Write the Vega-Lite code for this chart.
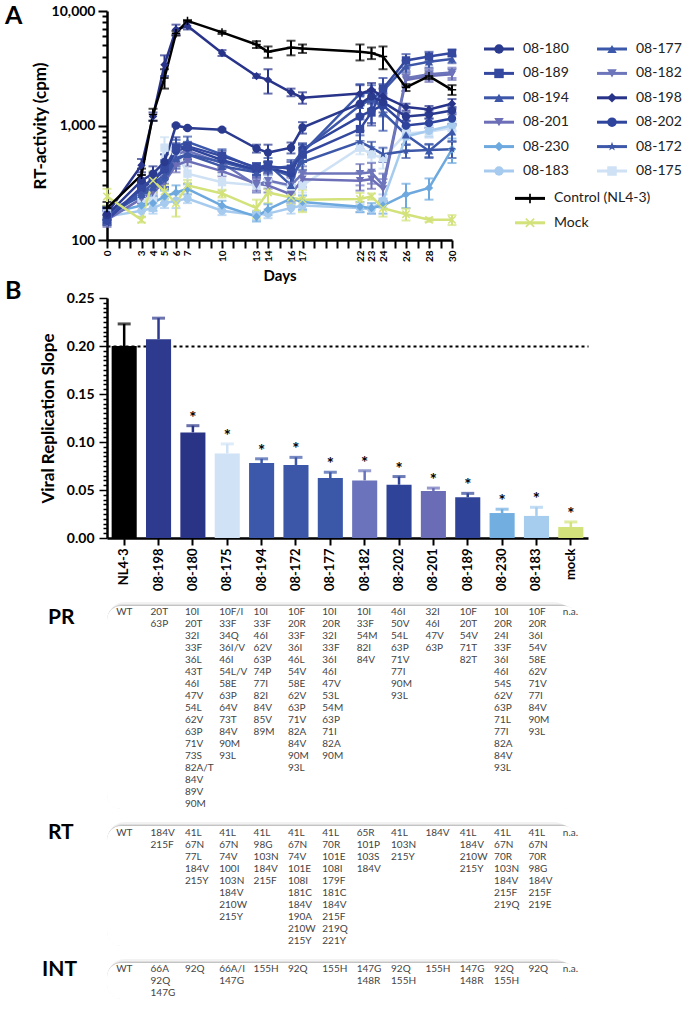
{
"$schema": "https://vega.github.io/schema/vega-lite/v6.json",
"background": "white",
"padding": {"left": 5, "top": 4, "right": 0, "bottom": 0},
"bounds": "flush",
"spacing": 17,
"resolve": {"scale": {"color": "independent", "shape": "independent", "size": "independent"}},
"config": {
 "font": "Lato",
 "view": {"stroke": null},
 "axis": {"grid": false, "labelOverlap": false, "domainColor": "#000", "tickColor": "#000", "labelColor": "#000", "titleColor": "#000", "labelFont": "Lato", "titleFont": "Lato", "labelFontWeight": "bold", "titleFontWeight": "bold"},
 "title": {"font": "Lato", "color": "#000"}
},
"datasets": {
"ts": [
{"s":"08-175","d":0,"v":170,"e":20},{"s":"08-175","d":3,"v":230,"e":30},{"s":"08-175","d":4,"v":220,"e":30},{"s":"08-175","d":5,"v":640,"e":150},{"s":"08-175","d":6,"v":600,"e":150},{"s":"08-175","d":7,"v":380,"e":80},{"s":"08-175","d":10,"v":320,"e":50},{"s":"08-175","d":13,"v":300,"e":40},{"s":"08-175","d":14,"v":330,"e":40},{"s":"08-175","d":16,"v":290,"e":40},{"s":"08-175","d":17,"v":300,"e":40},{"s":"08-175","d":22,"v":640,"e":80},{"s":"08-175","d":23,"v":560,"e":80},{"s":"08-175","d":24,"v":520,"e":100},{"s":"08-175","d":26,"v":850,"e":100},{"s":"08-175","d":28,"v":880,"e":100},{"s":"08-175","d":30,"v":950,"e":100},
{"s":"08-183","d":0,"v":160,"e":15},{"s":"08-183","d":3,"v":180,"e":20},{"s":"08-183","d":4,"v":190,"e":20},{"s":"08-183","d":5,"v":210,"e":20},{"s":"08-183","d":6,"v":220,"e":30},{"s":"08-183","d":7,"v":230,"e":20},{"s":"08-183","d":10,"v":180,"e":15},{"s":"08-183","d":13,"v":165,"e":15},{"s":"08-183","d":14,"v":170,"e":15},{"s":"08-183","d":16,"v":190,"e":20},{"s":"08-183","d":17,"v":200,"e":20},{"s":"08-183","d":22,"v":190,"e":15},{"s":"08-183","d":23,"v":185,"e":15},{"s":"08-183","d":24,"v":220,"e":30},{"s":"08-183","d":26,"v":800,"e":120},{"s":"08-183","d":28,"v":900,"e":100},{"s":"08-183","d":30,"v":1000,"e":100},
{"s":"08-230","d":0,"v":170,"e":20},{"s":"08-230","d":3,"v":200,"e":20},{"s":"08-230","d":4,"v":210,"e":30},{"s":"08-230","d":5,"v":240,"e":30},{"s":"08-230","d":6,"v":260,"e":40},{"s":"08-230","d":7,"v":280,"e":30},{"s":"08-230","d":10,"v":200,"e":20},{"s":"08-230","d":13,"v":160,"e":15},{"s":"08-230","d":14,"v":185,"e":20},{"s":"08-230","d":16,"v":230,"e":30},{"s":"08-230","d":17,"v":215,"e":30},{"s":"08-230","d":22,"v":195,"e":20},{"s":"08-230","d":23,"v":190,"e":20},{"s":"08-230","d":24,"v":200,"e":30},{"s":"08-230","d":26,"v":250,"e":60},{"s":"08-230","d":28,"v":285,"e":60},{"s":"08-230","d":30,"v":620,"e":150},
{"s":"08-201","d":0,"v":150,"e":20},{"s":"08-201","d":3,"v":230,"e":30},{"s":"08-201","d":4,"v":260,"e":30},{"s":"08-201","d":5,"v":320,"e":40},{"s":"08-201","d":6,"v":450,"e":60},{"s":"08-201","d":7,"v":490,"e":50},{"s":"08-201","d":10,"v":400,"e":40},{"s":"08-201","d":13,"v":310,"e":40},{"s":"08-201","d":14,"v":300,"e":40},{"s":"08-201","d":16,"v":250,"e":40},{"s":"08-201","d":17,"v":340,"e":50},{"s":"08-201","d":22,"v":330,"e":60},{"s":"08-201","d":23,"v":340,"e":60},{"s":"08-201","d":24,"v":280,"e":60},{"s":"08-201","d":26,"v":2500,"e":300},{"s":"08-201","d":28,"v":2700,"e":300},{"s":"08-201","d":30,"v":2800,"e":300},
{"s":"08-182","d":0,"v":160,"e":20},{"s":"08-182","d":3,"v":260,"e":30},{"s":"08-182","d":4,"v":300,"e":40},{"s":"08-182","d":5,"v":340,"e":50},{"s":"08-182","d":6,"v":560,"e":80},{"s":"08-182","d":7,"v":600,"e":60},{"s":"08-182","d":10,"v":470,"e":50},{"s":"08-182","d":13,"v":300,"e":40},{"s":"08-182","d":14,"v":330,"e":50},{"s":"08-182","d":16,"v":300,"e":50},{"s":"08-182","d":17,"v":380,"e":60},{"s":"08-182","d":22,"v":380,"e":80},{"s":"08-182","d":23,"v":390,"e":80},{"s":"08-182","d":24,"v":300,"e":80},{"s":"08-182","d":26,"v":2600,"e":400},{"s":"08-182","d":28,"v":2800,"e":300},{"s":"08-182","d":30,"v":2900,"e":300},
{"s":"08-172","d":0,"v":175,"e":20},{"s":"08-172","d":3,"v":240,"e":30},{"s":"08-172","d":4,"v":280,"e":40},{"s":"08-172","d":5,"v":330,"e":50},{"s":"08-172","d":6,"v":500,"e":80},{"s":"08-172","d":7,"v":560,"e":50},{"s":"08-172","d":10,"v":480,"e":50},{"s":"08-172","d":13,"v":400,"e":40},{"s":"08-172","d":14,"v":430,"e":50},{"s":"08-172","d":16,"v":360,"e":60},{"s":"08-172","d":17,"v":480,"e":70},{"s":"08-172","d":22,"v":720,"e":100},{"s":"08-172","d":23,"v":640,"e":80},{"s":"08-172","d":24,"v":560,"e":80},{"s":"08-172","d":26,"v":600,"e":80},{"s":"08-172","d":28,"v":610,"e":80},{"s":"08-172","d":30,"v":620,"e":100},
{"s":"08-177","d":0,"v":160,"e":20},{"s":"08-177","d":3,"v":250,"e":30},{"s":"08-177","d":4,"v":290,"e":40},{"s":"08-177","d":5,"v":350,"e":60},{"s":"08-177","d":6,"v":650,"e":100},{"s":"08-177","d":7,"v":720,"e":80},{"s":"08-177","d":10,"v":560,"e":60},{"s":"08-177","d":13,"v":420,"e":50},{"s":"08-177","d":14,"v":460,"e":60},{"s":"08-177","d":16,"v":300,"e":80},{"s":"08-177","d":17,"v":580,"e":100},{"s":"08-177","d":22,"v":1900,"e":400},{"s":"08-177","d":23,"v":1950,"e":300},{"s":"08-177","d":24,"v":1300,"e":400},{"s":"08-177","d":26,"v":830,"e":150},{"s":"08-177","d":28,"v":600,"e":80},{"s":"08-177","d":30,"v":880,"e":150},
{"s":"08-202","d":0,"v":150,"e":15},{"s":"08-202","d":3,"v":280,"e":40},{"s":"08-202","d":4,"v":330,"e":40},{"s":"08-202","d":5,"v":410,"e":60},{"s":"08-202","d":6,"v":600,"e":100},{"s":"08-202","d":7,"v":640,"e":60},{"s":"08-202","d":10,"v":500,"e":50},{"s":"08-202","d":13,"v":410,"e":40},{"s":"08-202","d":14,"v":430,"e":50},{"s":"08-202","d":16,"v":380,"e":60},{"s":"08-202","d":17,"v":620,"e":80},{"s":"08-202","d":22,"v":1200,"e":300},{"s":"08-202","d":23,"v":1350,"e":300},{"s":"08-202","d":24,"v":1500,"e":300},{"s":"08-202","d":26,"v":1000,"e":100},{"s":"08-202","d":28,"v":1050,"e":100},{"s":"08-202","d":30,"v":1150,"e":150},
{"s":"08-194","d":0,"v":170,"e":20},{"s":"08-194","d":3,"v":260,"e":30},{"s":"08-194","d":4,"v":310,"e":40},{"s":"08-194","d":5,"v":370,"e":60},{"s":"08-194","d":6,"v":520,"e":80},{"s":"08-194","d":7,"v":560,"e":60},{"s":"08-194","d":10,"v":440,"e":50},{"s":"08-194","d":13,"v":390,"e":40},{"s":"08-194","d":14,"v":420,"e":50},{"s":"08-194","d":16,"v":440,"e":60},{"s":"08-194","d":17,"v":600,"e":80},{"s":"08-194","d":22,"v":1500,"e":300},{"s":"08-194","d":23,"v":1700,"e":300},{"s":"08-194","d":24,"v":2000,"e":300},{"s":"08-194","d":26,"v":3300,"e":400},{"s":"08-194","d":28,"v":3600,"e":400},{"s":"08-194","d":30,"v":3800,"e":300},
{"s":"08-189","d":0,"v":150,"e":15},{"s":"08-189","d":3,"v":290,"e":40},{"s":"08-189","d":4,"v":340,"e":50},{"s":"08-189","d":5,"v":420,"e":80},{"s":"08-189","d":6,"v":640,"e":150},{"s":"08-189","d":7,"v":660,"e":60},{"s":"08-189","d":10,"v":540,"e":60},{"s":"08-189","d":13,"v":430,"e":40},{"s":"08-189","d":14,"v":440,"e":50},{"s":"08-189","d":16,"v":420,"e":60},{"s":"08-189","d":17,"v":560,"e":80},{"s":"08-189","d":22,"v":930,"e":200},{"s":"08-189","d":23,"v":1300,"e":300},{"s":"08-189","d":24,"v":2100,"e":500},{"s":"08-189","d":26,"v":3700,"e":500},{"s":"08-189","d":28,"v":4000,"e":400},{"s":"08-189","d":30,"v":4300,"e":300},
{"s":"08-180","d":0,"v":165,"e":20},{"s":"08-180","d":3,"v":330,"e":40},{"s":"08-180","d":4,"v":380,"e":60},{"s":"08-180","d":5,"v":480,"e":80},{"s":"08-180","d":6,"v":1000,"e":20},{"s":"08-180","d":7,"v":950,"e":20},{"s":"08-180","d":10,"v":920,"e":20},{"s":"08-180","d":13,"v":630,"e":50},{"s":"08-180","d":14,"v":580,"e":100},{"s":"08-180","d":16,"v":640,"e":70},{"s":"08-180","d":17,"v":960,"e":110},{"s":"08-180","d":22,"v":1550,"e":300},{"s":"08-180","d":23,"v":1800,"e":250},{"s":"08-180","d":24,"v":1600,"e":300},{"s":"08-180","d":26,"v":1200,"e":100},{"s":"08-180","d":28,"v":1250,"e":100},{"s":"08-180","d":30,"v":1350,"e":100},
{"s":"08-198","d":0,"v":170,"e":20},{"s":"08-198","d":3,"v":450,"e":60},{"s":"08-198","d":4,"v":1200,"e":100},{"s":"08-198","d":5,"v":3400,"e":700},{"s":"08-198","d":6,"v":6900,"e":700},{"s":"08-198","d":7,"v":7400,"e":500},{"s":"08-198","d":10,"v":4300,"e":250},{"s":"08-198","d":13,"v":2700,"e":100},{"s":"08-198","d":14,"v":2500,"e":600},{"s":"08-198","d":16,"v":1950,"e":150},{"s":"08-198","d":17,"v":1750,"e":200},{"s":"08-198","d":22,"v":1900,"e":350},{"s":"08-198","d":23,"v":2050,"e":300},{"s":"08-198","d":24,"v":1800,"e":300},{"s":"08-198","d":26,"v":1450,"e":100},{"s":"08-198","d":28,"v":1380,"e":100},{"s":"08-198","d":30,"v":1550,"e":150},
{"s":"Mock","d":0,"v":240,"e":40},{"s":"Mock","d":3,"v":150,"e":8},{"s":"Mock","d":4,"v":330,"e":70},{"s":"Mock","d":5,"v":265,"e":40},{"s":"Mock","d":6,"v":210,"e":50},{"s":"Mock","d":7,"v":300,"e":35},{"s":"Mock","d":10,"v":255,"e":20},{"s":"Mock","d":13,"v":190,"e":35},{"s":"Mock","d":14,"v":260,"e":50},{"s":"Mock","d":16,"v":235,"e":30},{"s":"Mock","d":17,"v":225,"e":50},{"s":"Mock","d":22,"v":228,"e":30},{"s":"Mock","d":23,"v":240,"e":15},{"s":"Mock","d":24,"v":190,"e":30},{"s":"Mock","d":26,"v":168,"e":20},{"s":"Mock","d":28,"v":150,"e":6},{"s":"Mock","d":30,"v":150,"e":15},
{"s":"Control (NL4-3)","d":0,"v":190,"e":25},{"s":"Control (NL4-3)","d":3,"v":370,"e":50},{"s":"Control (NL4-3)","d":4,"v":1250,"e":150},{"s":"Control (NL4-3)","d":5,"v":2600,"e":500},{"s":"Control (NL4-3)","d":6,"v":6400,"e":300},{"s":"Control (NL4-3)","d":7,"v":8200,"e":150},{"s":"Control (NL4-3)","d":10,"v":6500,"e":200},{"s":"Control (NL4-3)","d":13,"v":5100,"e":350},{"s":"Control (NL4-3)","d":14,"v":4400,"e":500},{"s":"Control (NL4-3)","d":16,"v":4800,"e":700},{"s":"Control (NL4-3)","d":17,"v":4700,"e":400},{"s":"Control (NL4-3)","d":22,"v":4400,"e":700},{"s":"Control (NL4-3)","d":23,"v":4300,"e":500},{"s":"Control (NL4-3)","d":24,"v":4000,"e":900},{"s":"Control (NL4-3)","d":26,"v":2150,"e":150},{"s":"Control (NL4-3)","d":28,"v":2700,"e":150},{"s":"Control (NL4-3)","d":30,"v":2050,"e":200}
],
"leg": [
{"s":"08-180","c":0,"r":0},{"s":"08-189","c":0,"r":1},{"s":"08-194","c":0,"r":2},{"s":"08-201","c":0,"r":3},{"s":"08-230","c":0,"r":4},{"s":"08-183","c":0,"r":5},
{"s":"08-177","c":1,"r":0},{"s":"08-182","c":1,"r":1},{"s":"08-198","c":1,"r":2},{"s":"08-202","c":1,"r":3},{"s":"08-172","c":1,"r":4},{"s":"08-175","c":1,"r":5},
{"s":"Control (NL4-3)","c":0,"r":6},{"s":"Mock","c":0,"r":7}
],
"bars": [
{"s":"NL4-3","v":0.2,"hi":0.223,"sig":""},{"s":"08-198","v":0.207,"hi":0.229,"sig":""},{"s":"08-180","v":0.11,"hi":0.117,"sig":"*"},{"s":"08-175","v":0.088,"hi":0.098,"sig":"*"},{"s":"08-194","v":0.078,"hi":0.0825,"sig":"*"},{"s":"08-172","v":0.076,"hi":0.084,"sig":"*"},{"s":"08-177","v":0.0625,"hi":0.0685,"sig":"*"},{"s":"08-182","v":0.06,"hi":0.07,"sig":"*"},{"s":"08-202","v":0.0555,"hi":0.064,"sig":"*"},{"s":"08-201","v":0.049,"hi":0.052,"sig":"*"},{"s":"08-189","v":0.0425,"hi":0.0465,"sig":"*"},{"s":"08-230","v":0.026,"hi":0.03,"sig":"*"},{"s":"08-183","v":0.023,"hi":0.032,"sig":"*"},{"s":"mock","v":0.0115,"hi":0.0167,"sig":"*"}
],
"pr": [
{"s":"NL4-3","i":0,"t":"WT"},
{"s":"08-198","i":0,"t":"20T"},{"s":"08-198","i":1,"t":"63P"},
{"s":"08-180","i":0,"t":"10I"},{"s":"08-180","i":1,"t":"20T"},{"s":"08-180","i":2,"t":"32I"},{"s":"08-180","i":3,"t":"33F"},{"s":"08-180","i":4,"t":"36L"},{"s":"08-180","i":5,"t":"43T"},{"s":"08-180","i":6,"t":"46I"},{"s":"08-180","i":7,"t":"47V"},{"s":"08-180","i":8,"t":"54L"},{"s":"08-180","i":9,"t":"62V"},{"s":"08-180","i":10,"t":"63P"},{"s":"08-180","i":11,"t":"71V"},{"s":"08-180","i":12,"t":"73S"},{"s":"08-180","i":13,"t":"82A/T"},{"s":"08-180","i":14,"t":"84V"},{"s":"08-180","i":15,"t":"89V"},{"s":"08-180","i":16,"t":"90M"},
{"s":"08-175","i":0,"t":"10F/I"},{"s":"08-175","i":1,"t":"33F"},{"s":"08-175","i":2,"t":"34Q"},{"s":"08-175","i":3,"t":"36I/V"},{"s":"08-175","i":4,"t":"46I"},{"s":"08-175","i":5,"t":"54L/V"},{"s":"08-175","i":6,"t":"58E"},{"s":"08-175","i":7,"t":"63P"},{"s":"08-175","i":8,"t":"64V"},{"s":"08-175","i":9,"t":"73T"},{"s":"08-175","i":10,"t":"84V"},{"s":"08-175","i":11,"t":"90M"},{"s":"08-175","i":12,"t":"93L"},
{"s":"08-194","i":0,"t":"10I"},{"s":"08-194","i":1,"t":"33F"},{"s":"08-194","i":2,"t":"46I"},{"s":"08-194","i":3,"t":"62V"},{"s":"08-194","i":4,"t":"63P"},{"s":"08-194","i":5,"t":"74P"},{"s":"08-194","i":6,"t":"77I"},{"s":"08-194","i":7,"t":"82I"},{"s":"08-194","i":8,"t":"84V"},{"s":"08-194","i":9,"t":"85V"},{"s":"08-194","i":10,"t":"89M"},
{"s":"08-172","i":0,"t":"10F"},{"s":"08-172","i":1,"t":"20R"},{"s":"08-172","i":2,"t":"33F"},{"s":"08-172","i":3,"t":"36I"},{"s":"08-172","i":4,"t":"46L"},{"s":"08-172","i":5,"t":"54V"},{"s":"08-172","i":6,"t":"58E"},{"s":"08-172","i":7,"t":"62V"},{"s":"08-172","i":8,"t":"63P"},{"s":"08-172","i":9,"t":"71V"},{"s":"08-172","i":10,"t":"82A"},{"s":"08-172","i":11,"t":"84V"},{"s":"08-172","i":12,"t":"90M"},{"s":"08-172","i":13,"t":"93L"},
{"s":"08-177","i":0,"t":"10I"},{"s":"08-177","i":1,"t":"20R"},{"s":"08-177","i":2,"t":"32I"},{"s":"08-177","i":3,"t":"33F"},{"s":"08-177","i":4,"t":"36I"},{"s":"08-177","i":5,"t":"46I"},{"s":"08-177","i":6,"t":"47V"},{"s":"08-177","i":7,"t":"53L"},{"s":"08-177","i":8,"t":"54M"},{"s":"08-177","i":9,"t":"63P"},{"s":"08-177","i":10,"t":"71I"},{"s":"08-177","i":11,"t":"82A"},{"s":"08-177","i":12,"t":"90M"},
{"s":"08-182","i":0,"t":"10I"},{"s":"08-182","i":1,"t":"33F"},{"s":"08-182","i":2,"t":"54M"},{"s":"08-182","i":3,"t":"82I"},{"s":"08-182","i":4,"t":"84V"},
{"s":"08-202","i":0,"t":"46I"},{"s":"08-202","i":1,"t":"50V"},{"s":"08-202","i":2,"t":"54L"},{"s":"08-202","i":3,"t":"63P"},{"s":"08-202","i":4,"t":"71V"},{"s":"08-202","i":5,"t":"77I"},{"s":"08-202","i":6,"t":"90M"},{"s":"08-202","i":7,"t":"93L"},
{"s":"08-201","i":0,"t":"32I"},{"s":"08-201","i":1,"t":"46I"},{"s":"08-201","i":2,"t":"47V"},{"s":"08-201","i":3,"t":"63P"},
{"s":"08-189","i":0,"t":"10F"},{"s":"08-189","i":1,"t":"20T"},{"s":"08-189","i":2,"t":"54V"},{"s":"08-189","i":3,"t":"71T"},{"s":"08-189","i":4,"t":"82T"},
{"s":"08-230","i":0,"t":"10I"},{"s":"08-230","i":1,"t":"20R"},{"s":"08-230","i":2,"t":"24I"},{"s":"08-230","i":3,"t":"33F"},{"s":"08-230","i":4,"t":"36I"},{"s":"08-230","i":5,"t":"46I"},{"s":"08-230","i":6,"t":"54S"},{"s":"08-230","i":7,"t":"62V"},{"s":"08-230","i":8,"t":"63P"},{"s":"08-230","i":9,"t":"71L"},{"s":"08-230","i":10,"t":"77I"},{"s":"08-230","i":11,"t":"82A"},{"s":"08-230","i":12,"t":"84V"},{"s":"08-230","i":13,"t":"93L"},
{"s":"08-183","i":0,"t":"10F"},{"s":"08-183","i":1,"t":"20R"},{"s":"08-183","i":2,"t":"36I"},{"s":"08-183","i":3,"t":"54V"},{"s":"08-183","i":4,"t":"58E"},{"s":"08-183","i":5,"t":"62V"},{"s":"08-183","i":6,"t":"71V"},{"s":"08-183","i":7,"t":"77I"},{"s":"08-183","i":8,"t":"84V"},{"s":"08-183","i":9,"t":"90M"},{"s":"08-183","i":10,"t":"93L"},
{"s":"mock","i":0,"t":"n.a."}
],
"rt": [
{"s":"NL4-3","i":0,"t":"WT"},
{"s":"08-198","i":0,"t":"184V"},{"s":"08-198","i":1,"t":"215F"},
{"s":"08-180","i":0,"t":"41L"},{"s":"08-180","i":1,"t":"67N"},{"s":"08-180","i":2,"t":"77L"},{"s":"08-180","i":3,"t":"184V"},{"s":"08-180","i":4,"t":"215Y"},
{"s":"08-175","i":0,"t":"41L"},{"s":"08-175","i":1,"t":"67N"},{"s":"08-175","i":2,"t":"74V"},{"s":"08-175","i":3,"t":"100I"},{"s":"08-175","i":4,"t":"103N"},{"s":"08-175","i":5,"t":"184V"},{"s":"08-175","i":6,"t":"210W"},{"s":"08-175","i":7,"t":"215Y"},
{"s":"08-194","i":0,"t":"41L"},{"s":"08-194","i":1,"t":"98G"},{"s":"08-194","i":2,"t":"103N"},{"s":"08-194","i":3,"t":"184V"},{"s":"08-194","i":4,"t":"215F"},
{"s":"08-172","i":0,"t":"41L"},{"s":"08-172","i":1,"t":"67N"},{"s":"08-172","i":2,"t":"74V"},{"s":"08-172","i":3,"t":"101E"},{"s":"08-172","i":4,"t":"108I"},{"s":"08-172","i":5,"t":"181C"},{"s":"08-172","i":6,"t":"184V"},{"s":"08-172","i":7,"t":"190A"},{"s":"08-172","i":8,"t":"210W"},{"s":"08-172","i":9,"t":"215Y"},
{"s":"08-177","i":0,"t":"41L"},{"s":"08-177","i":1,"t":"70R"},{"s":"08-177","i":2,"t":"101E"},{"s":"08-177","i":3,"t":"108I"},{"s":"08-177","i":4,"t":"179F"},{"s":"08-177","i":5,"t":"181C"},{"s":"08-177","i":6,"t":"184V"},{"s":"08-177","i":7,"t":"215F"},{"s":"08-177","i":8,"t":"219Q"},{"s":"08-177","i":9,"t":"221Y"},
{"s":"08-182","i":0,"t":"65R"},{"s":"08-182","i":1,"t":"101P"},{"s":"08-182","i":2,"t":"103S"},{"s":"08-182","i":3,"t":"184V"},
{"s":"08-202","i":0,"t":"41L"},{"s":"08-202","i":1,"t":"103N"},{"s":"08-202","i":2,"t":"215Y"},
{"s":"08-201","i":0,"t":"184V"},
{"s":"08-189","i":0,"t":"41L"},{"s":"08-189","i":1,"t":"184V"},{"s":"08-189","i":2,"t":"210W"},{"s":"08-189","i":3,"t":"215Y"},
{"s":"08-230","i":0,"t":"41L"},{"s":"08-230","i":1,"t":"67N"},{"s":"08-230","i":2,"t":"70R"},{"s":"08-230","i":3,"t":"103N"},{"s":"08-230","i":4,"t":"184V"},{"s":"08-230","i":5,"t":"215F"},{"s":"08-230","i":6,"t":"219Q"},
{"s":"08-183","i":0,"t":"41L"},{"s":"08-183","i":1,"t":"67N"},{"s":"08-183","i":2,"t":"70R"},{"s":"08-183","i":3,"t":"98G"},{"s":"08-183","i":4,"t":"184V"},{"s":"08-183","i":5,"t":"215F"},{"s":"08-183","i":6,"t":"219E"},
{"s":"mock","i":0,"t":"n.a."}
],
"int": [
{"s":"NL4-3","i":0,"t":"WT"},
{"s":"08-198","i":0,"t":"66A"},{"s":"08-198","i":1,"t":"92Q"},{"s":"08-198","i":2,"t":"147G"},
{"s":"08-180","i":0,"t":"92Q"},
{"s":"08-175","i":0,"t":"66A/I"},{"s":"08-175","i":1,"t":"147G"},
{"s":"08-194","i":0,"t":"155H"},
{"s":"08-172","i":0,"t":"92Q"},
{"s":"08-177","i":0,"t":"155H"},
{"s":"08-182","i":0,"t":"147G"},{"s":"08-182","i":1,"t":"148R"},
{"s":"08-202","i":0,"t":"92Q"},{"s":"08-202","i":1,"t":"155H"},
{"s":"08-201","i":0,"t":"155H"},
{"s":"08-189","i":0,"t":"147G"},{"s":"08-189","i":1,"t":"148R"},
{"s":"08-230","i":0,"t":"92Q"},{"s":"08-230","i":1,"t":"155H"},
{"s":"08-183","i":0,"t":"92Q"},
{"s":"mock","i":0,"t":"n.a."}
]
},
"vconcat": [
{
 "width": 345, "height": 229,
 "title": {"text": "A", "anchor": "start", "frame": "group", "orient": "top", "fontSize": 25, "fontWeight": "bold", "baseline": "middle", "offset": 0, "dx": -102, "dy": 37},
 "resolve": {"scale": {"x": "independent", "y": "independent", "color": "independent", "shape": "independent", "size": "independent"}},
 "layer": [
 {
  "data": {"name": "ts"},
  "encoding": {
   "x": {"field": "d", "type": "quantitative", "scale": {"domain": [0, 30], "nice": false},
     "axis": {"values": [0,1,2,3,4,5,6,7,8,9,10,11,12,13,14,15,16,17,18,19,20,21,22,23,24,25,26,27,28,29,30],
       "labelExpr": "indexof([0,3,4,5,6,7,10,13,14,16,17,22,23,24,26,28,30], datum.value) >= 0 ? datum.label : ''",
       "labelAngle": -90, "labelFontSize": 10, "labelPadding": 2, "tickSize": 8, "tickWidth": 2, "domainWidth": 2.5,
       "title": "Days", "titleFontSize": 15, "titlePadding": 7}},
   "y": {"field": "v", "type": "quantitative", "scale": {"type": "log", "domain": [100, 10000], "nice": false},
     "axis": {"values": [100,200,300,400,500,600,700,800,900,1000,2000,3000,4000,5000,6000,7000,8000,9000,10000],
       "labelExpr": "(datum.value == 100 || datum.value == 1000 || datum.value == 10000) ? format(datum.value, ',') : ''",
       "labelFontSize": 14, "labelPadding": 3,
       "tickSize": {"condition": {"test": "datum.value == 100 || datum.value == 1000 || datum.value == 10000", "value": 9}, "value": 5},
       "tickWidth": 2, "domainWidth": 2.5, "title": "RT-activity (cpm)", "titleFontSize": 17, "titlePadding": 2}},
   "color": {"field": "s", "type": "nominal", "legend": null,
     "scale": {"domain": ["08-180","08-189","08-194","08-201","08-230","08-183","08-177","08-182","08-198","08-202","08-172","08-175","Control (NL4-3)","Mock"],
       "range": ["#2a3a8f","#3448a0","#3d56a8","#6c6fb7","#6da9de","#a6cbee","#3b58ab","#6d75bb","#28338a","#2f449c","#3d58a8","#cfe1f5","#000000","#d3e27a"]}}
  },
  "layer": [
   {"mark": {"type": "errorbar", "ticks": {"size": 9}, "thickness": 2}, "encoding": {"yError": {"field": "e"}}},
   {"mark": {"type": "line", "strokeWidth": 2.5}},
   {"mark": {"type": "point", "filled": true, "opacity": 1},
    "encoding": {
     "shape": {"field": "s", "type": "nominal", "legend": null,
       "scale": {"domain": ["08-180","08-189","08-194","08-201","08-230","08-183","08-177","08-182","08-198","08-202","08-172","08-175","Control (NL4-3)","Mock"],
         "range": ["circle","square","triangle-up","triangle-down","diamond","circle","triangle-up","triangle-down","diamond","circle","M0,-1L0.24,-0.33L0.95,-0.31L0.38,0.12L0.59,0.81L0,0.4L-0.59,0.81L-0.38,0.12L-0.95,-0.31L-0.24,-0.33Z","square","M-0.18,-1H0.18V-0.18H1V0.18H0.18V1H-0.18V0.18H-1V-0.18H-0.18Z","M-1,-0.75L-0.75,-1L0,-0.25L0.75,-1L1,-0.75L0.25,0L1,0.75L0.75,1L0,0.25L-0.75,1L-1,0.75L-0.25,0Z"]}},
     "size": {"field": "s", "type": "nominal", "legend": null,
       "scale": {"domain": ["08-180","08-189","08-194","08-201","08-230","08-183","08-177","08-182","08-198","08-202","08-172","08-175","Control (NL4-3)","Mock"],
         "range": [70,70,45,70,40,150,80,80,80,70,110,140,110,110]}}
    }}
  ]
 },
 {
  "data": {"name": "leg"},
  "encoding": {
   "x": {"field": "c", "type": "quantitative", "scale": {"domain": [0, 1], "range": [392, 505], "zero": false, "nice": false}, "axis": null},
   "y": {"field": "r", "type": "quantitative", "scale": {"domain": [0, 5], "range": [38, 160], "zero": false, "nice": false}, "axis": null},
   "color": {"field": "s", "type": "nominal", "legend": null,
     "scale": {"domain": ["08-180","08-189","08-194","08-201","08-230","08-183","08-177","08-182","08-198","08-202","08-172","08-175","Control (NL4-3)","Mock"],
       "range": ["#2a3a8f","#3448a0","#3d56a8","#6c6fb7","#6da9de","#a6cbee","#3b58ab","#6d75bb","#28338a","#2f449c","#3d58a8","#cfe1f5","#000000","#d3e27a"]}},
   "shape": {"field": "s", "type": "nominal", "legend": null,
       "scale": {"domain": ["08-180","08-189","08-194","08-201","08-230","08-183","08-177","08-182","08-198","08-202","08-172","08-175","Control (NL4-3)","Mock"],
         "range": ["circle","square","triangle-up","triangle-down","diamond","circle","triangle-up","triangle-down","diamond","circle","M0,-1L0.24,-0.33L0.95,-0.31L0.38,0.12L0.59,0.81L0,0.4L-0.59,0.81L-0.38,0.12L-0.95,-0.31L-0.24,-0.33Z","square","M-0.18,-1H0.18V-0.18H1V0.18H0.18V1H-0.18V0.18H-1V-0.18H-0.18Z","M-1,-0.75L-0.75,-1L0,-0.25L0.75,-1L1,-0.75L0.25,0L1,0.75L0.75,1L0,0.25L-0.75,1L-1,0.75L-0.25,0Z"]}},
   "size": {"field": "s", "type": "nominal", "legend": null,
       "scale": {"domain": ["08-180","08-189","08-194","08-201","08-230","08-183","08-177","08-182","08-198","08-202","08-172","08-175","Control (NL4-3)","Mock"],
         "range": [90,90,60,90,55,170,100,100,100,90,130,160,130,130]}}
  },
  "layer": [
   {"transform": [{"filter": "datum.r < 6"}], "mark": {"type": "rule", "strokeWidth": 3, "xOffset": -15, "x2Offset": 15}, "encoding": {"x2": {"field": "c"}, "shape": null, "size": null}},
   {"transform": [{"filter": "datum.r < 6"}], "mark": {"type": "point", "filled": true, "opacity": 1}},
   {"transform": [{"filter": "datum.r < 6"}], "mark": {"type": "text", "align": "left", "baseline": "middle", "dx": 24, "fontSize": 14, "font": "Lato", "color": "#222"}, "encoding": {"text": {"field": "s"}, "shape": null, "size": null, "color": null}},
   {"transform": [{"filter": "datum.r >= 6"}], "mark": {"type": "rule", "strokeWidth": 3, "xOffset": 16, "x2Offset": 46, "yOffset": 3, "y2Offset": 3}, "encoding": {"x2": {"field": "c"}, "shape": null, "size": null}},
   {"transform": [{"filter": "datum.r >= 6"}], "mark": {"type": "point", "filled": true, "opacity": 1, "xOffset": 31, "yOffset": 3}},
   {"transform": [{"filter": "datum.r >= 6"}], "mark": {"type": "text", "align": "left", "baseline": "middle", "dx": 55, "dy": 3, "fontSize": 14, "font": "Lato", "color": "#222"}, "encoding": {"text": {"field": "s"}, "shape": null, "size": null, "color": null}}
  ]
 }
 ]
},
{"width": 10, "height": 24, "data": {"values": []}, "mark": "point", "encoding": {}},
{
 "width": 481, "height": 240,
 "title": {"text": "B", "anchor": "start", "frame": "group", "orient": "top", "fontSize": 25, "fontWeight": "bold", "baseline": "middle", "offset": 0, "dx": -102, "dy": 25},
 "data": {"name": "bars"},
 "encoding": {
  "x": {"field": "s", "type": "nominal", "sort": null,
    "scale": {"domain": ["NL4-3","08-198","08-180","08-175","08-194","08-172","08-177","08-182","08-202","08-201","08-189","08-230","08-183","mock"], "paddingInner": 0.27, "paddingOuter": 0.135},
    "axis": {"title": null, "labelAngle": -90, "labelFontSize": 13, "labelPadding": 3, "tickSize": 7, "tickWidth": 2, "domainWidth": 2.5}},
  "y": {"field": "v", "type": "quantitative", "scale": {"domain": [0, 0.25], "nice": false, "zero": true},
    "axis": {"title": "Viral Replication Slope", "titleFontSize": 17, "titlePadding": 9,
      "values": [0,0.005,0.01,0.015,0.02,0.025,0.03,0.035,0.04,0.045,0.05,0.055,0.06,0.065,0.07,0.075,0.08,0.085,0.09,0.095,0.1,0.105,0.11,0.115,0.12,0.125,0.13,0.135,0.14,0.145,0.15,0.155,0.16,0.165,0.17,0.175,0.18,0.185,0.19,0.195,0.2,0.205,0.21,0.215,0.22,0.225,0.23,0.235,0.24,0.245,0.25],
      "labelExpr": "(abs(datum.value*20 - round(datum.value*20)) < 0.001) ? format(datum.value, '.2f') : ''",
      "labelFontSize": 14, "labelPadding": 5,
      "tickSize": {"condition": {"test": "abs(datum.value*20 - round(datum.value*20)) < 0.001", "value": 8}, "value": 4},
      "tickWidth": 1.5, "domainWidth": 2.5,
      "grid": true, "gridDash": [3, 3], "gridWidth": 2,
      "gridColor": {"condition": {"test": "abs(datum.value - 0.2) < 0.0001", "value": "#000"}, "value": "transparent"}}},
  "color": {"field": "s", "type": "nominal", "legend": null,
    "scale": {"domain": ["NL4-3","08-198","08-180","08-175","08-194","08-172","08-177","08-182","08-202","08-201","08-189","08-230","08-183","mock"],
      "range": ["#000000","#2e3a8e","#2a3486","#d0e2f5","#3c58aa","#3c57a8","#3a57a8","#6a73bb","#2f4399","#6a6db5","#2f4499","#72aee0","#a7cdee","#d3e27a"]}}
 },
 "layer": [
  {"mark": {"type": "rule", "strokeWidth": 2.5}, "encoding": {"y2": {"field": "hi"}}},
  {"mark": {"type": "tick", "thickness": 3, "size": 13}, "encoding": {"y": {"field": "hi", "type": "quantitative"}}},
  {"mark": {"type": "bar"}},
  {"mark": {"type": "text", "dy": -7, "fontSize": 17, "fontWeight": "bold", "font": "Lato", "baseline": "middle"},
   "encoding": {"y": {"field": "hi", "type": "quantitative"}, "text": {"field": "sig"}, "fill": {"value": "#000000"}}}
 ]
},
{"width": 10, "height": 34, "data": {"values": []}, "mark": "point", "encoding": {}},
{
 "width": 481, "height": 203,
 "title": {"text": "PR", "anchor": "start", "frame": "group", "orient": "top", "fontSize": 21, "fontWeight": "bold", "baseline": "middle", "offset": 0, "dx": -59, "dy": 37},
 "layer": [
  {"data": {"values": [{}]}, "mark": {"type": "rect", "fill": "#000", "opacity": 0.05, "cornerRadius": 18, "xOffset": -16, "x2Offset": 18, "yOffset": -4, "y2Offset": 9}, "encoding": {}},
  {"data": {"values": [{}]}, "mark": {"type": "rect", "fill": "#000", "opacity": 0.08, "cornerRadius": 16, "xOffset": -13, "x2Offset": 15, "yOffset": -2, "y2Offset": 6}, "encoding": {}},
  {"data": {"values": [{}]}, "mark": {"type": "rect", "fill": "#000", "opacity": 0.12, "cornerRadius": 15, "xOffset": -11, "x2Offset": 13, "yOffset": -1, "y2Offset": 3}, "encoding": {}},
  {"data": {"values": [{}]}, "mark": {"type": "rect", "fill": "#fff", "cornerRadius": 14, "xOffset": -10, "x2Offset": 12}, "encoding": {}},
  {"data": {"name": "pr"},
   "mark": {"type": "text", "align": "left", "baseline": "middle", "dx": -8, "fontSize": 10, "font": "Lato", "color": "#444"},
   "encoding": {
    "x": {"field": "s", "type": "nominal", "sort": null, "axis": null,
      "scale": {"domain": ["NL4-3","08-198","08-180","08-175","08-194","08-172","08-177","08-182","08-202","08-201","08-189","08-230","08-183","mock"], "paddingInner": 0.27, "paddingOuter": 0.135}},
    "y": {"field": "i", "type": "quantitative", "axis": null, "scale": {"domain": [-0.5, 16.42], "reverse": true, "nice": false, "zero": false}},
    "text": {"field": "t", "type": "nominal"}}}
 ]
},
{
 "width": 481, "height": 120,
 "title": {"text": "RT", "anchor": "start", "frame": "group", "orient": "top", "fontSize": 21, "fontWeight": "bold", "baseline": "middle", "offset": 0, "dx": -59, "dy": 32},
 "layer": [
  {"data": {"values": [{}]}, "mark": {"type": "rect", "fill": "#000", "opacity": 0.05, "cornerRadius": 18, "xOffset": -16, "x2Offset": 18, "yOffset": -4, "y2Offset": 9}, "encoding": {}},
  {"data": {"values": [{}]}, "mark": {"type": "rect", "fill": "#000", "opacity": 0.08, "cornerRadius": 16, "xOffset": -13, "x2Offset": 15, "yOffset": -2, "y2Offset": 6}, "encoding": {}},
  {"data": {"values": [{}]}, "mark": {"type": "rect", "fill": "#000", "opacity": 0.12, "cornerRadius": 15, "xOffset": -11, "x2Offset": 13, "yOffset": -1, "y2Offset": 3}, "encoding": {}},
  {"data": {"values": [{}]}, "mark": {"type": "rect", "fill": "#fff", "cornerRadius": 14, "xOffset": -10, "x2Offset": 12}, "encoding": {}},
  {"data": {"name": "rt"},
   "mark": {"type": "text", "align": "left", "baseline": "middle", "dx": -8, "fontSize": 10, "font": "Lato", "color": "#444"},
   "encoding": {
    "x": {"field": "s", "type": "nominal", "sort": null, "axis": null,
      "scale": {"domain": ["NL4-3","08-198","08-180","08-175","08-194","08-172","08-177","08-182","08-202","08-201","08-189","08-230","08-183","mock"], "paddingInner": 0.27, "paddingOuter": 0.135}},
    "y": {"field": "i", "type": "quantitative", "axis": null, "scale": {"domain": [-0.583, 9.417], "reverse": true, "nice": false, "zero": false}},
    "text": {"field": "t", "type": "nominal"}}}
 ]
},
{
 "width": 481, "height": 36,
 "title": {"text": "INT", "anchor": "start", "frame": "group", "orient": "top", "fontSize": 21, "fontWeight": "bold", "baseline": "middle", "offset": 0, "dx": -65, "dy": 32},
 "layer": [
  {"data": {"values": [{}]}, "mark": {"type": "rect", "fill": "#000", "opacity": 0.05, "cornerRadius": 18, "xOffset": -16, "x2Offset": 18, "yOffset": -4, "y2Offset": 9}, "encoding": {}},
  {"data": {"values": [{}]}, "mark": {"type": "rect", "fill": "#000", "opacity": 0.08, "cornerRadius": 16, "xOffset": -13, "x2Offset": 15, "yOffset": -2, "y2Offset": 6}, "encoding": {}},
  {"data": {"values": [{}]}, "mark": {"type": "rect", "fill": "#000", "opacity": 0.12, "cornerRadius": 15, "xOffset": -11, "x2Offset": 13, "yOffset": -1, "y2Offset": 3}, "encoding": {}},
  {"data": {"values": [{}]}, "mark": {"type": "rect", "fill": "#fff", "cornerRadius": 14, "xOffset": -10, "x2Offset": 12}, "encoding": {}},
  {"data": {"name": "int"},
   "mark": {"type": "text", "align": "left", "baseline": "middle", "dx": -8, "fontSize": 10, "font": "Lato", "color": "#444"},
   "encoding": {
    "x": {"field": "s", "type": "nominal", "sort": null, "axis": null,
      "scale": {"domain": ["NL4-3","08-198","08-180","08-175","08-194","08-172","08-177","08-182","08-202","08-201","08-189","08-230","08-183","mock"], "paddingInner": 0.27, "paddingOuter": 0.135}},
    "y": {"field": "i", "type": "quantitative", "axis": null, "scale": {"domain": [-0.5, 2.5], "reverse": true, "nice": false, "zero": false}},
    "text": {"field": "t", "type": "nominal"}}}
 ]
}
]
}
